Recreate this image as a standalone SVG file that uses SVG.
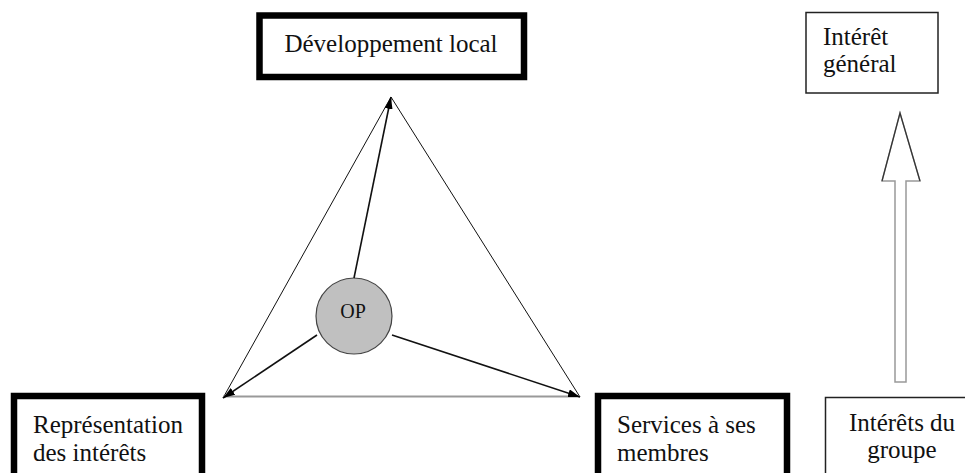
<svg xmlns="http://www.w3.org/2000/svg" width="965" height="473" viewBox="0 0 965 473">
<style>
  text { font-family: "Liberation Serif", "Times New Roman", serif; font-size: 25px; fill: #111; }
  .thick { fill: #fff; stroke: #000; stroke-width: 6.5; }
  .thin { fill: #fff; stroke: #222; stroke-width: 1.5; }
  .side { stroke: #111; stroke-width: 1; fill: none; }
  .op { stroke: #111; stroke-width: 1.6; fill: none; marker-end: url(#ah); }
</style>
<defs>
  <marker id="ah" viewBox="0 0 12 8" refX="12" refY="4" markerWidth="12" markerHeight="8" markerUnits="userSpaceOnUse" orient="auto">
    <path d="M0,0 L12,4 L0,8 Z" fill="#000"/>
  </marker>
</defs>

<g id="node-dev">
  <rect class="thick" x="259.5" y="15.5" width="264.5" height="61.5"/>
  <text x="391" y="52" text-anchor="middle">Développement local</text>
</g>

<g id="node-interet-general">
  <rect class="thin" x="806" y="12.5" width="132" height="80.5"/>
  <text x="823" y="45">Intérêt</text>
  <text x="823" y="72">général</text>
</g>

<g id="node-representation">
  <rect class="thick" x="14" y="396" width="188" height="90"/>
  <text x="33" y="433">Représentation</text>
  <text x="33" y="461">des intérêts</text>
</g>

<g id="node-services">
  <rect class="thick" x="598" y="396" width="189" height="90"/>
  <text x="617" y="433">Services à ses</text>
  <text x="617" y="461">membres</text>
</g>

<g id="node-interets-groupe">
  <rect class="thin" x="825.5" y="397.5" width="150" height="90"/>
  <text x="902" y="431" text-anchor="middle">Intérêts du</text>
  <text x="902" y="458" text-anchor="middle">groupe</text>
</g>

<g id="node-op">
  <circle cx="354" cy="316" r="38" fill="#c0c0c0" stroke="#444" stroke-width="1.2"/>
  <text x="353" y="318" text-anchor="middle" style="font-size:20px">OP</text>
</g>

<g id="connectors">
  <line class="side" x1="391" y1="97" x2="223" y2="398"/>
  <line class="side" x1="391" y1="97" x2="580" y2="397"/>
  <line x1="223" y1="396.5" x2="580" y2="396.5" stroke="#999" stroke-width="2"/>
  <line class="op" x1="354" y1="278" x2="391" y2="97"/>
  <line class="op" x1="317" y1="335" x2="223" y2="398"/>
  <line class="op" x1="392" y1="335" x2="580" y2="397"/>
  <path d="M895,382 L895,181 L882,181 L900,113 L920,181 L906,181 L906,382 Z" fill="#fff" stroke="#999" stroke-width="1.5"/>
  <path d="M882,181 L900,113 L920,181" fill="none" stroke="#333" stroke-width="1.2"/>
</g>
</svg>
